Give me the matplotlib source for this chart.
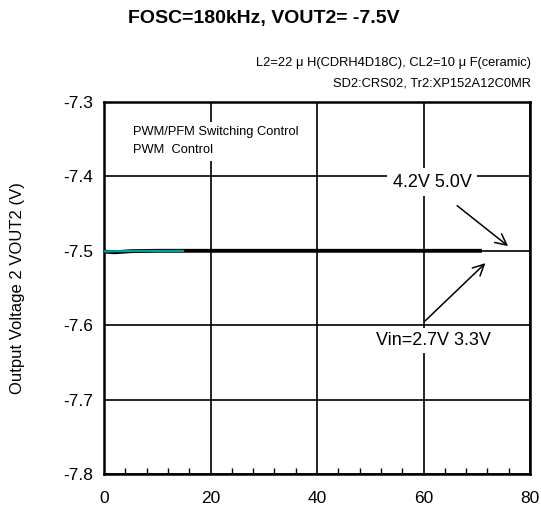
import matplotlib.pyplot as plt
from matplotlib.ticker import MultipleLocator

plt.rcParams['font.family'] = ['Liberation Sans', 'DejaVu Sans']

# output current (mA) and output voltage (V)
iout_long = [0, 1, 2, 3, 5, 10, 20, 30, 40, 50, 60, 70.6]
vout_long = [-7.501, -7.5015, -7.502, -7.5015, -7.5005, -7.5, -7.5, -7.5, -7.5, -7.5, -7.5, -7.5]
iout_short = [0, 2, 5, 10, 14.8]
vout_short = [-7.5008, -7.5006, -7.5003, -7.5002, -7.5002]

title = 'FOSC=180kHz, VOUT2= -7.5V'
cond1 = 'L2=22 μ H(CDRH4D18C), CL2=10 μ F(ceramic)'
cond2 = 'SD2:CRS02, Tr2:XP152A12C0MR'

fig = plt.figure(figsize=(5.41, 5.11), dpi=100)
ax = fig.add_axes([104 / 541, 1 - 474 / 511, 426 / 541, 372 / 511])

ax.plot(iout_long, vout_long, color='black', lw=2.8, zorder=3)
ax.plot(iout_short, vout_short, color='#00a0a0', lw=1.6, zorder=4)

ax.set_xlim(0, 80)
ax.set_ylim(-7.8, -7.3)
ax.xaxis.set_major_locator(MultipleLocator(20))
ax.xaxis.set_minor_locator(MultipleLocator(4))
ax.yaxis.set_major_locator(MultipleLocator(0.1))
ax.yaxis.set_major_formatter(plt.FuncFormatter(lambda v, p: f'{v:.1f}'))
ax.tick_params(axis='both', which='major', length=0, labelsize=12.5)
ax.tick_params(axis='x', which='major', pad=12)
ax.tick_params(axis='y', which='major', pad=8)
ax.tick_params(axis='x', which='minor', direction='in', length=4, width=1, top=False)
ax.grid(True, which='major', color='black', lw=1.2)
for s in ax.spines.values():
    s.set_linewidth(1.8)

ax.set_ylabel('Output Voltage 2 VOUT2 (V)', fontsize=12)
ax.yaxis.set_label_coords(-(104 - 25) / 426, 0.5)

ax.text(5.4, -7.3525, 'PWM/PFM Switching Control\nPWM  Control', fontsize=9.3,
        va='center', ha='left', linespacing=1.75,
        bbox=dict(facecolor='white', edgecolor='none', pad=3), zorder=5)

ax.annotate('', xy=(76.3, -7.496), xytext=(65.9, -7.437),
            arrowprops=dict(arrowstyle='->', color='black', lw=1.1,
                            mutation_scale=20), zorder=6)
ax.text(61.6, -7.408, '4.2V 5.0V', fontsize=13, ha='center', va='center',
        bbox=dict(facecolor='white', edgecolor='none', pad=4), zorder=6)

ax.annotate('', xy=(72.0, -7.514), xytext=(59.9, -7.597),
            arrowprops=dict(arrowstyle='->', color='black', lw=1.1,
                            mutation_scale=20), zorder=6)
ax.text(61.8, -7.621, 'Vin=2.7V 3.3V', fontsize=13, ha='center', va='center',
        bbox=dict(facecolor='white', edgecolor='none', pad=3), zorder=6)

fig.text(264 / 541, 1 - 18 / 511, title, fontsize=14, weight='bold',
         ha='center', va='center')
fig.text(531 / 541, 1 - 63 / 511, cond1, fontsize=9.3, ha='right', va='center')
fig.text(531 / 541, 1 - 83 / 511, cond2, fontsize=9.3, ha='right', va='center')

fig.savefig('out.png', dpi=100)
